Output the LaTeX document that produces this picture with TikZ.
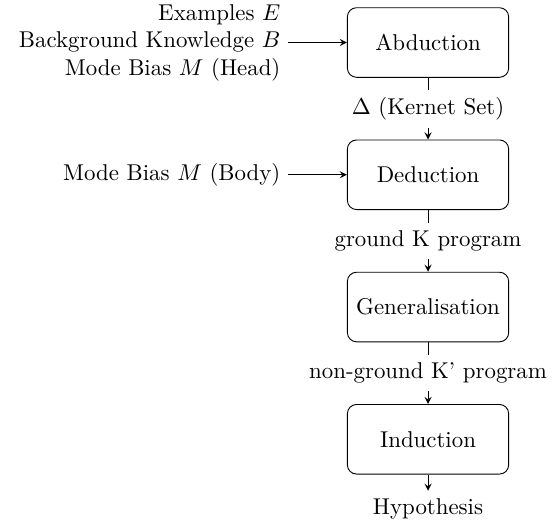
\documentclass[tikz,border=0pt]{standalone}
\usetikzlibrary{positioning}
\begin{document}
\begin{tikzpicture}
    [
    >=stealth,
    stage/.style={draw,rounded corners,minimum width=2.48cm,minimum height=1.07cm},
    input/.style={align=right},
    flow/.style={->},
    lbl/.style={fill=white},
    ]
    \useasboundingbox (-187.3pt,18.6pt) rectangle (56pt,-211.6pt);
    \node[stage] (abd) {Abduction};
    \node[stage,below=0.95cm of abd] (ded) {Deduction};
    \node[stage,below=0.95cm of ded] (gen) {Generalisation};
    \node[stage,below=0.95cm of gen] (ind) {Induction};
    \node[below=0.25cm of ind] (hyp) {Hypothesis};
    \node[input,left=0.9cm of abd] (inhead) {Examples $E$\\Background Knowledge $B$\\Mode Bias $M$ (Head)};
    \node[input,left=0.9cm of ded] (inbody) {Mode Bias $M$ (Body)};

    \draw[flow] (inhead) -- (abd);
    \draw[flow] (inbody) -- (ded);
    \draw[flow] (abd) -- node[lbl] {$\Delta$ (Kernet Set)} (ded);
    \draw[flow] (ded) -- node[lbl] {ground K program} (gen);
    \draw[flow] (gen) -- node[lbl] {non-ground K' program} (ind);
    \draw[flow] (ind) -- (hyp);
\end{tikzpicture}
\end{document}
